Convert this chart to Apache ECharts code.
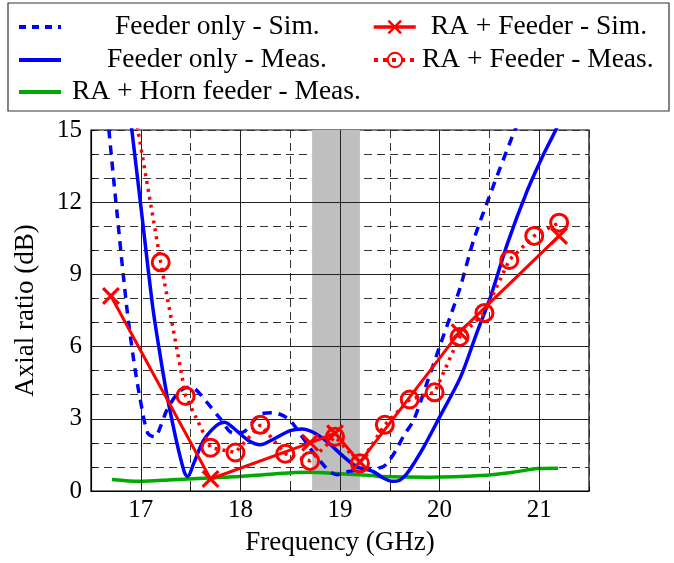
<!DOCTYPE html>
<html><head><meta charset="utf-8">
<script src="https://cdn.jsdelivr.net/npm/echarts@6/dist/echarts.min.js"></script>
<style>html,body{margin:0;padding:0;background:#fff}#c{width:674px;height:563px}</style>
</head><body><div id="c"></div>
<script>
// ---- data ----
const xMajor = [17, 18, 19, 20, 21];
const yMajor = [0, 3, 6, 9, 12, 15];
const band = [18.72, 19.2];

const feederSimX = [16.64,16.68,16.76,16.86,16.93,16.99,17.07,17.14,17.2,17.26,17.36,17.46,17.54,17.66,17.79,17.93,18.03,18.12,18.2,18.33,18.48,18.58,18.67,18.75,18.83,18.9,18.97,19.07,19.27,19.43,19.5,19.57,19.64,19.74,19.87,20.0,20.12,20.21,20.34,20.51,20.74,20.8];
const feederSimY = [17,15,11.6,7.6,5.4,3.9,2.4,2.25,2.7,3.35,4.0,4.3,4.25,3.7,3.05,2.4,2.45,2.85,3.2,3.25,3.0,2.5,1.95,1.5,1.1,0.8,0.68,0.8,0.9,1.0,1.3,1.75,2.3,2.95,4.45,6.0,7.4,8.5,10.4,12.35,14.84,15.4];

const feederMeasX = [16.88,16.91,17.0,17.12,17.19,17.26,17.32,17.38,17.44,17.47,17.53,17.63,17.76,17.84,17.96,18.08,18.2,18.33,18.5,18.62,18.73,18.87,19.03,19.17,19.33,19.43,19.53,19.6,19.67,19.75,19.84,20.0,20.21,20.37,20.51,20.68,20.88,21.03,21.16,21.22];
const feederMeasY = [16.1,15,11.85,7.64,5.75,4.04,2.8,1.68,0.75,0.6,1.13,2.1,2.72,2.86,2.51,2.1,1.92,2.15,2.51,2.58,2.44,2.05,1.45,1.0,0.82,0.55,0.4,0.45,0.71,1.2,1.82,3.07,4.73,6.53,8.05,10.27,12.48,13.87,14.95,15.5];

const hornMeasX = [16.71,16.99,17.32,17.83,17.99,18.33,18.67,19.0,19.33,19.4,19.9,20.41,20.74,20.98,21.19];
const hornMeasY = [0.48,0.4,0.47,0.57,0.6,0.71,0.78,0.72,0.64,0.6,0.57,0.64,0.78,0.93,0.95];

const raSimX = [16.7,17.7,18.7,18.95,19.2,20.2,21.2];
const raSimY = [8.1,0.5,2.0,2.4,1.2,6.6,10.6];

const raMeasX = [16.95,17.2,17.45,17.7,17.95,18.2,18.45,18.7,18.95,19.2,19.45,19.7,19.95,20.2,20.45,20.7,20.95,21.2];
const raMeasY = [15.5,9.5,3.95,1.8,1.6,2.75,1.55,1.25,2.25,1.15,2.75,3.8,4.1,6.4,7.4,9.6,10.6,11.15];

const names = ['Feeder only - Sim.', 'Feeder only - Meas.', 'RA + Horn feeder - Meas.', 'RA + Feeder - Sim.', 'RA + Feeder - Meas.'];

// ---- build ----
const xMin = 16.5, xMax = 21.5, yMin = 0, yMax = 15;
const zip = (xs, ys) => xs.map((x, i) => [x, ys[i]]);
const zipClip = (xs, ys) => xs.map((x, i) => ys[i] > yMax ? {value: [x, ys[i]], symbol: 'none'} : [x, ys[i]]);

const FONT = 'Liberation Serif';
const crossPath = 'path://M2.5,0L10,7.5L17.5,0L20,2.5L12.5,10L20,17.5L17.5,20L10,12.5L2.5,20L0,17.5L7.5,10L0,2.5Z';

function legendAt(name, left, top, textPad, hideSymbol, lineStyle) {
  const item = {name: name, lineStyle: lineStyle};
  if (hideSymbol) item.itemStyle = {color: 'rgba(0,0,0,0)', borderColor: 'rgba(0,0,0,0)', borderWidth: 0};
  return {
    data: [item], left: left, top: top, orient: 'horizontal', padding: 0,
    itemWidth: 42, itemHeight: 18, selectedMode: false,
    textStyle: {fontFamily: FONT, fontSize: 27.5, color: '#000', padding: [0, 0, 0, textPad], lineHeight: 30}
  };
}

const chart = echarts.init(document.getElementById('c'), null, {renderer: 'canvas'});
chart.setOption({
  animation: false,
  backgroundColor: '#fff',
  graphic: [{type: 'rect', shape: {x: 8, y: 3, width: 661, height: 108}, style: {fill: 'none', stroke: '#333', lineWidth: 1.2}, z: 0}],
  legend: [
    legendAt(names[0], 17, 12, 49, true, {width: 4, type: [7, 6]}),
    legendAt(names[1], 17, 45, 41, true, {width: 4}),
    legendAt(names[2], 17, 77, 6, true, {width: 4}),
    legendAt(names[3], 372, 12, 10, false, {width: 3.5}),
    legendAt(names[4], 372, 45, 1, false, {width: 4, type: [4, 5]})
  ],
  grid: {left: 91, right: 85, top: 130, bottom: 72, show: true, borderColor: '#000', borderWidth: 1.2, containLabel: false},
  xAxis: {
    type: 'value', min: xMin, max: xMax, interval: 0.5,
    name: 'Frequency (GHz)', nameLocation: 'middle', nameGap: 38,
    nameTextStyle: {fontFamily: FONT, fontSize: 27, color: '#000'},
    axisLine: {show: true, lineStyle: {color: '#000', width: 1.2}},
    axisTick: {show: true, inside: true, length: 4, lineStyle: {color: '#000'}},
    axisLabel: {fontFamily: FONT, fontSize: 25, color: '#000', margin: 7,
      formatter: v => xMajor.includes(Math.round(v * 1000) / 1000) ? String(Math.round(v)) : ''},
    splitLine: {show: true, lineStyle: {color: '#333', type: [8, 5], width: 1}}
  },
  yAxis: {
    type: 'value', min: yMin, max: yMax, interval: 1,
    name: 'Axial ratio (dB)', nameLocation: 'middle', nameGap: 52,
    nameTextStyle: {fontFamily: FONT, fontSize: 27, color: '#000'},
    axisLine: {show: true, lineStyle: {color: '#000', width: 1.2}},
    axisTick: {show: true, inside: true, length: 4, lineStyle: {color: '#000'}},
    axisLabel: {fontFamily: FONT, fontSize: 25, color: '#000', margin: 9,
      formatter: v => yMajor.includes(Math.round(v)) ? String(Math.round(v)) : ''},
    splitLine: {show: true, lineStyle: {color: '#333', type: [8, 5], width: 1}}
  },
  series: [
    {
      name: '_band', type: 'line', data: [], z: -1, silent: true,
      markArea: {silent: true, itemStyle: {color: '#bfbfbf'}, data: [[{xAxis: band[0]}, {xAxis: band[1]}]]}
    },
    {
      name: '_major', type: 'line', data: [], z: 1, silent: true,
      markLine: {silent: true, symbol: ['none', 'none'], label: {show: false},
        lineStyle: {color: '#222', type: 'solid', width: 1},
        data: xMajor.map(v => ({xAxis: v})).concat(yMajor.filter(v => v > yMin && v < yMax).map(v => ({yAxis: v})))}
    },
    {
      name: names[2], type: 'line', data: zip(hornMeasX, hornMeasY), z: 3, smooth: 0.3,
      showSymbol: false, symbol: 'none', lineStyle: {color: '#00aa00', width: 3.5}, itemStyle: {color: '#00aa00'}
    },
    {
      name: names[0], type: 'line', data: zip(feederSimX, feederSimY), z: 4, smooth: 0.3,
      showSymbol: false, symbol: 'none', lineStyle: {color: '#0000ff', width: 3.5, type: [9, 7]}, itemStyle: {color: '#0000ff'}
    },
    {
      name: names[1], type: 'line', data: zip(feederMeasX, feederMeasY), z: 5, smooth: 0.3,
      showSymbol: false, symbol: 'none', lineStyle: {color: '#0000ff', width: 3.5}, itemStyle: {color: '#0000ff'}
    },
    {
      name: names[4], type: 'line', data: zipClip(raMeasX, raMeasY), z: 6,
      symbol: 'circle', symbolSize: 17,
      lineStyle: {color: '#ff0000', width: 3.5, type: [3, 5]},
      itemStyle: {color: 'rgba(255,255,255,0)', borderColor: '#ff0000', borderWidth: 3}
    },
    {
      name: names[3], type: 'line', data: zip(raSimX, raSimY), z: 7,
      symbol: crossPath, symbolSize: 18,
      lineStyle: {color: '#ff0000', width: 3},
      itemStyle: {color: '#ff0000'}
    }
  ]
});
</script></body></html>
